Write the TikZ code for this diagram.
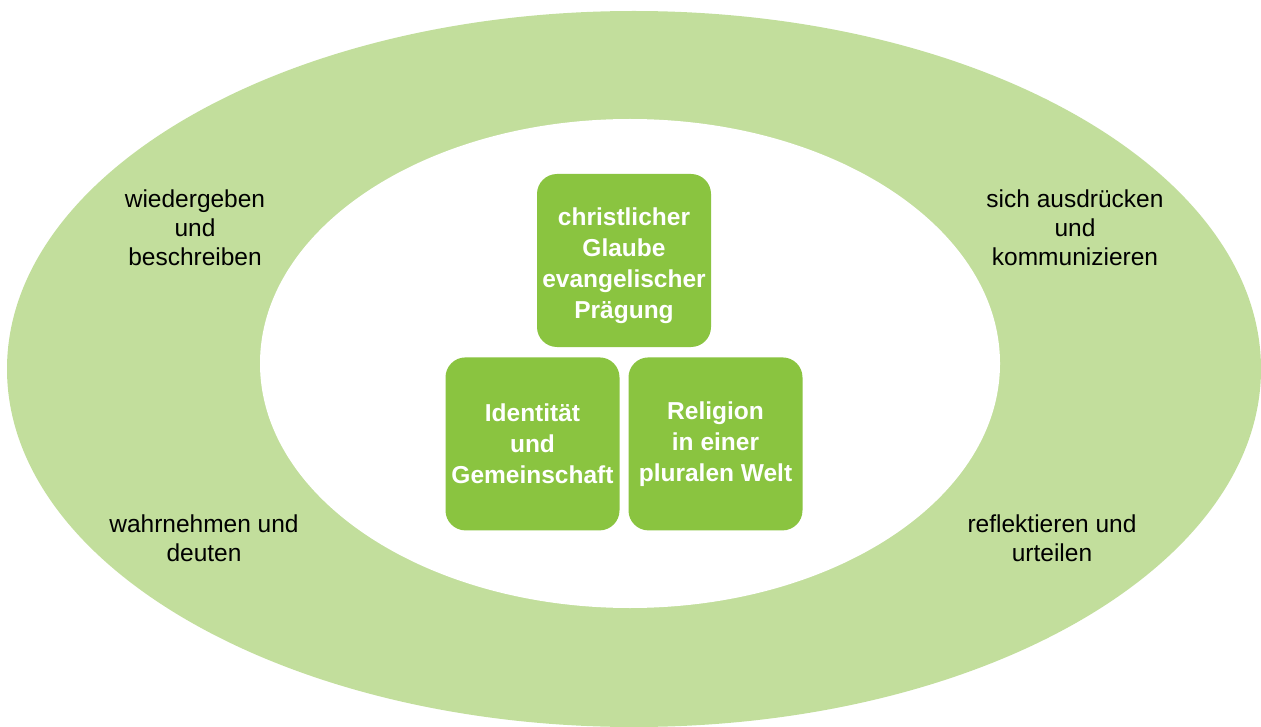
\documentclass[tikz,border=0pt]{standalone}
\usepackage{fontspec}
\setmainfont{Liberation Sans}
\usepackage{xcolor}
\usepackage{tikz}
\usetikzlibrary{positioning}
\definecolor{ringgreen}{RGB}{194,222,156}
\definecolor{boxgreen}{RGB}{138,196,64}

\begin{document}
\begin{tikzpicture}[x=1pt,y=-1pt,
		block/.style={fill=boxgreen, rounded corners=20pt, minimum width=174pt, minimum height=173pt,
			inner sep=0pt, align=center, text=white, font=\fontsize{24.5}{31}\selectfont\bfseries},
		label/.style={align=center, text=black, font=\fontsize{24.5}{29}\selectfont}]
	\useasboundingbox (0,0) rectangle (1261,727);
	\fill[ringgreen] (634,369) ellipse [x radius=627, y radius=358];
	\fill[white] (630,363.5) ellipse [x radius=370, y radius=244.5];
	%
	\node [block, text height=122pt] (glaube) at (624,260.5) {christlicher\\Glaube\\evangelischer\\Prägung};
	\node [block, below=10pt of glaube, xshift=-91.5pt] (ident) {Identität\\und\\Gemeinschaft};
	\node [block, below=10pt of glaube, xshift=91.5pt] (relig) {Religion\\in einer\\pluralen Welt};
	%
	\node [label] (wieder) at (195,228) {wiedergeben\\und\\beschreiben};
	\node [label] (ausdr) at (1075,228) {sich ausdrücken\\und\\kommunizieren};
	\node [label] (wahr) at (204,538) {wahrnehmen und\\deuten};
	\node [label] (refl) at (1052,538) {reflektieren und\\urteilen};
\end{tikzpicture}
\end{document}
